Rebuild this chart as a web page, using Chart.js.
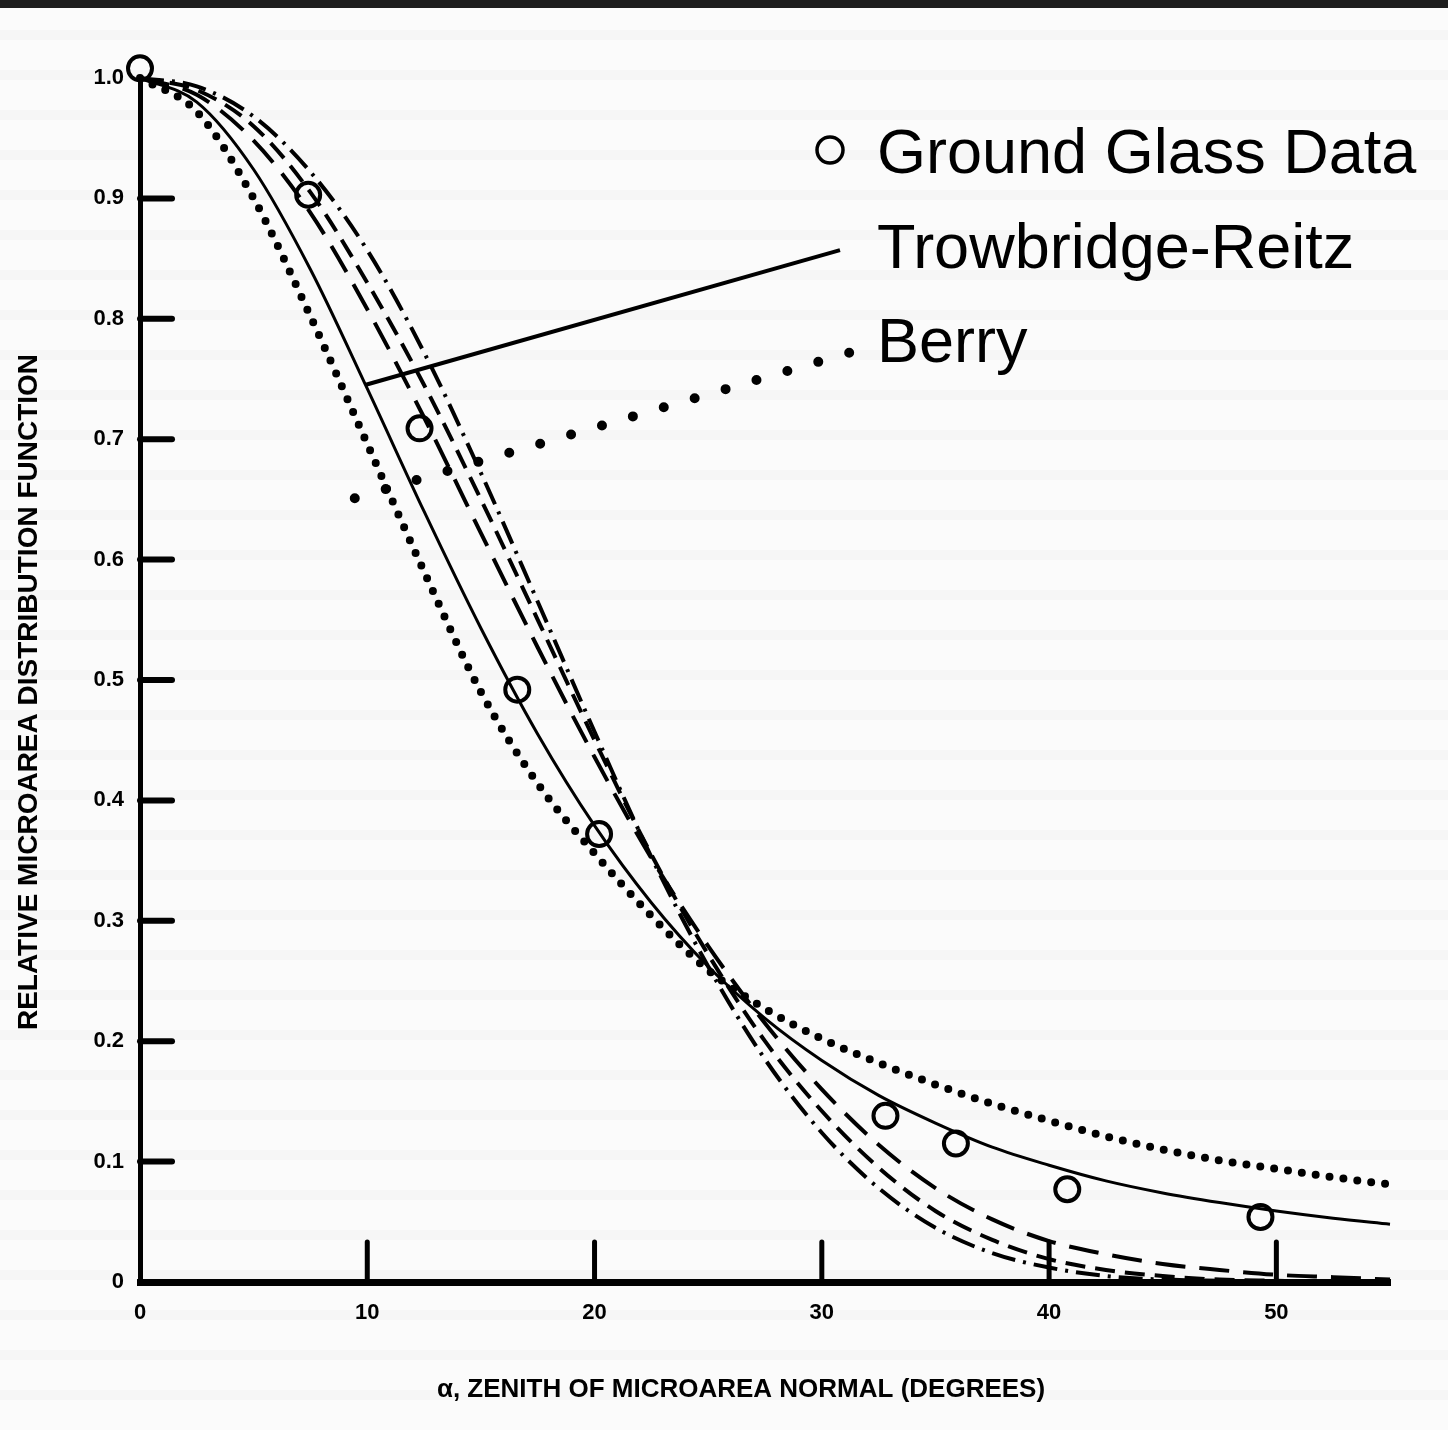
<!DOCTYPE html>
<html>
<head>
<meta charset="utf-8">
<script src="https://cdn.jsdelivr.net/npm/chart.js@4.4.1/dist/chart.umd.min.js"></script>
<style>
  html, body { margin: 0; padding: 0; }
  body {
    width: 1448px; height: 1430px; overflow: hidden; position: relative;
    background: repeating-linear-gradient(to bottom, #fbfbfb 0px, #fbfbfb 30px, #f6f6f6 30px, #f6f6f6 40px);
  }
  #topbar { position: absolute; left: 0; top: 0; width: 1448px; height: 8px; background: #1e1e1e; }
  #wrap { position: absolute; left: 0; top: 0; width: 1448px; height: 1430px; }
</style>
</head>
<body>
<div id="wrap"><canvas id="distChart" width="1448" height="1430"></canvas></div>
<div id="topbar"></div>
<script>
// ==================== DATA ====================
const angles = [0, 2.5, 5, 7.5, 10, 12.5, 15, 17.5, 20, 22.5, 25, 27.5, 30, 32.5, 35, 37.5, 40, 42.5, 45, 47.5, 50, 52.5, 55];

const trowbridgeReitz = [1.0, 0.980, 0.924, 0.841, 0.742, 0.640, 0.543, 0.455, 0.379, 0.315, 0.262, 0.219, 0.184, 0.155, 0.132, 0.112, 0.097, 0.084, 0.074, 0.066, 0.059, 0.053, 0.048];
const berry = [1.0, 0.972, 0.900, 0.802, 0.696, 0.590, 0.490, 0.414, 0.356, 0.304, 0.259, 0.227, 0.202, 0.182, 0.164, 0.148, 0.134, 0.121, 0.110, 0.101, 0.094, 0.087, 0.081];
const longDash = [1.0, 0.986, 0.948, 0.888, 0.808, 0.718, 0.622, 0.527, 0.436, 0.352, 0.279, 0.215, 0.160, 0.114, 0.078, 0.052, 0.034, 0.023, 0.015, 0.010, 0.006, 0.004, 0.002];
const shortDash = [1.0, 0.990, 0.960, 0.905, 0.830, 0.745, 0.650, 0.550, 0.450, 0.355, 0.272, 0.200, 0.142, 0.095, 0.059, 0.035, 0.019, 0.010, 0.005, 0.002, 0.001, 0, 0];
const dashDot = [1.0, 0.993, 0.968, 0.922, 0.857, 0.772, 0.672, 0.565, 0.457, 0.353, 0.262, 0.185, 0.124, 0.078, 0.045, 0.024, 0.012, 0.005, 0.002, 0.001, 0, 0, 0];

const glassAngles = [0, 7.4, 12.3, 16.6, 20.2, 32.8, 35.9, 40.8, 49.3];
const glassValues = [1.008, 0.903, 0.709, 0.492, 0.372, 0.138, 0.115, 0.077, 0.054];

const xTicks = [0, 10, 20, 30, 40, 50];
const yTicks = [0, 0.1, 0.2, 0.3, 0.4, 0.5, 0.6, 0.7, 0.8, 0.9, 1.0];
const yTickLabels = ["0", "0.1", "0.2", "0.3", "0.4", "0.5", "0.6", "0.7", "0.8", "0.9", "1.0"];

const legendLabels = ["Ground Glass Data", "Trowbridge-Reitz", "Berry"];
const xTitle = "α, ZENITH OF MICROAREA NORMAL (DEGREES)";
const yTitle = "RELATIVE MICROAREA DISTRIBUTION FUNCTION";

// leader lines from the legend to the curves, in data units
const trLeader = { from: [9.9, 0.745], to: [30.8, 0.857] };
const berryLeader = { from: [9.45, 0.651], to: [31.2, 0.772] };

// ==================== HELPERS ====================
function pts(xs, ys){
    return xs.map((x, i) => ({ x: x, y: ys[i] }));
}

function curve(label, values, width, dash, cap){
    return {
        label: label,
        data: pts(angles, values),
        showLine: true,
        borderColor: '#000',
        borderWidth: width,
        borderDash: dash,
        borderCapStyle: cap || 'butt',
        pointRadius: 0,
        cubicInterpolationMode: 'monotone',
        clip: false
    };
}

const FONT = '"Liberation Sans", Arial, Helvetica, sans-serif';

// ==================== PLUGINS ====================
const insideTicks = {
    id: 'insideTicks',
    afterDatasetsDraw(chart){
        const ctx = chart.ctx, xs = chart.scales.x, ys = chart.scales.y;
        const x0 = xs.getPixelForValue(0), y0 = ys.getPixelForValue(0);
        ctx.save();
        ctx.strokeStyle = '#000';
        ctx.lineCap = 'round';
        ctx.lineWidth = 6;
        yTicks.slice(1, 10).forEach(v => {
            const y = ys.getPixelForValue(v);
            ctx.beginPath(); ctx.moveTo(x0, y); ctx.lineTo(x0 + 32, y); ctx.stroke();
        });
        ctx.lineWidth = 5;
        xTicks.slice(1).forEach(v => {
            const x = xs.getPixelForValue(v);
            ctx.beginPath(); ctx.moveTo(x, y0); ctx.lineTo(x, y0 - 40); ctx.stroke();
        });
        ctx.restore();
    }
};

const legendNotes = {
    id: 'legendNotes',
    afterDraw(chart){
        const ctx = chart.ctx, xs = chart.scales.x, ys = chart.scales.y;
        const px = p => [xs.getPixelForValue(p[0]), ys.getPixelForValue(p[1])];
        ctx.save();
        ctx.strokeStyle = '#000';
        ctx.fillStyle = '#000';

        // solid leader
        let a = px(trLeader.from), b = px(trLeader.to);
        ctx.lineWidth = 4;
        ctx.beginPath(); ctx.moveTo(a[0], a[1]); ctx.lineTo(b[0], b[1]); ctx.stroke();

        // dotted leader, 17 dots
        a = px(berryLeader.from); b = px(berryLeader.to);
        const len = Math.hypot(b[0] - a[0], b[1] - a[1]);
        ctx.lineWidth = 10;
        ctx.lineCap = 'round';
        ctx.setLineDash([0, len / 16]);
        ctx.beginPath(); ctx.moveTo(a[0], a[1]); ctx.lineTo(b[0] + 1, b[1]); ctx.stroke();
        ctx.setLineDash([]);

        // marker
        ctx.lineWidth = 3.5;
        ctx.beginPath(); ctx.arc(830, 150, 13, 0, Math.PI * 2); ctx.stroke();

        ctx.font = '63px ' + FONT;
        ctx.textAlign = 'left';
        ctx.textBaseline = 'alphabetic';
        ctx.fillText(legendLabels[0], 877, 173);
        ctx.fillText(legendLabels[1], 877, 268);
        ctx.fillText(legendLabels[2], 877, 362);

        // axis titles
        ctx.textAlign = 'center';
        ctx.textBaseline = 'middle';
        ctx.font = 'bold 26px ' + FONT;
        ctx.fillText(xTitle, 741, 1390);
        ctx.translate(29, 692);
        ctx.rotate(-Math.PI / 2);
        ctx.font = 'bold 28px ' + FONT;
        ctx.fillText(yTitle, 0, 0);
        ctx.restore();
    }
};

// ==================== CHART ====================
const chart = new Chart(document.getElementById('distChart'), {
    type: 'scatter',
    data: {
        datasets: [
            {
                label: legendLabels[0],
                data: pts(glassAngles, glassValues),
                showLine: false,
                pointStyle: 'circle',
                pointRadius: 12,
                pointBorderWidth: 4,
                pointBorderColor: '#000',
                pointBackgroundColor: 'rgba(0,0,0,0)',
                clip: false
            },
            curve(legendLabels[1], trowbridgeReitz, 3, []),
            curve(legendLabels[2], berry, 8, [0, 14], 'round'),
            curve('Long dash', longDash, 4, [30, 14]),
            curve('Short dash', shortDash, 4, [20, 10]),
            curve('Dash dot', dashDot, 4, [24, 8, 3, 8])
        ]
    },
    options: {
        responsive: false,
        animation: false,
        events: [],
        layout: { padding: { top: 78, right: 58, left: 0, bottom: 0 } },
        plugins: { legend: { display: false }, tooltip: { enabled: false } },
        scales: {
            x: {
                type: 'linear', min: 0, max: 55,
                afterFit(scale){ scale.height = 148; },
                afterBuildTicks(scale){ scale.ticks = xTicks.map(v => ({ value: v })); },
                grid: { drawOnChartArea: false, drawTicks: false },
                border: { display: true, color: '#000', width: 7 },
                ticks: {
                    padding: 18, color: '#000', maxRotation: 0,
                    font: { family: FONT, size: 22, weight: 'bold' },
                    callback: v => String(v)
                },
                title: { display: false }
            },
            y: {
                type: 'linear', min: 0, max: 1.0,
                afterFit(scale){ scale.width = 140; },
                afterBuildTicks(scale){ scale.ticks = yTicks.map(v => ({ value: v })); },
                grid: { drawOnChartArea: false, drawTicks: false },
                border: { display: true, color: '#000', width: 5 },
                ticks: {
                    padding: 16, color: '#000',
                    font: { family: FONT, size: 22, weight: 'bold' },
                    callback: (v, i) => yTickLabels[i]
                },
                title: { display: false }
            }
        }
    },
    plugins: [insideTicks, legendNotes]
});
</script>
</body>
</html>
